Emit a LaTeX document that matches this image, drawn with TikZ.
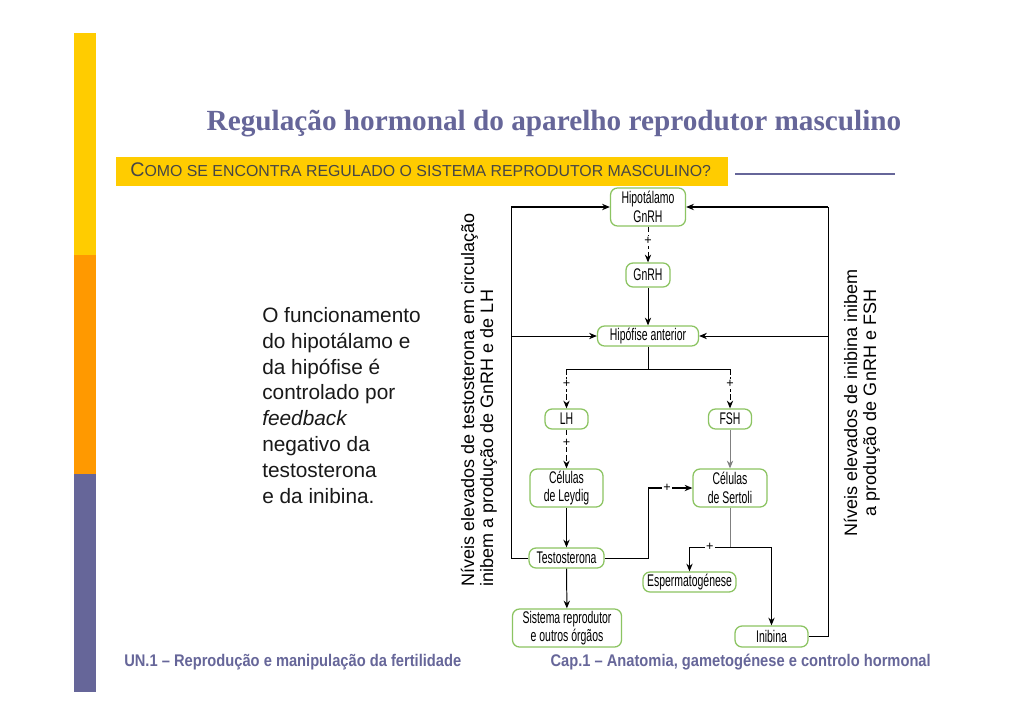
\documentclass[tikz,border=0pt]{standalone}
\usepackage{fontspec}
\setmainfont{Liberation Sans}
\newfontfamily\titlefont{Liberation Serif}
\newfontfamily\boxfont[FakeStretch=0.62]{Liberation Sans}
\newfontfamily\footfont[FakeStretch=0.87]{Liberation Sans}
\usepackage{tikz}
\usetikzlibrary{arrows.meta, positioning}
\definecolor{barYellow}{RGB}{255,204,0}
\definecolor{barOrange}{RGB}{255,153,0}
\definecolor{slate}{RGB}{102,102,153}
\definecolor{boxgreen}{RGB}{140,196,98}
\definecolor{bannertext}{RGB}{70,70,70}

\begin{document}
\begin{tikzpicture}[x=0.025cm, y=-0.025cm, >={Stealth[length=5.5pt,width=4.5pt]},
  box/.style={draw=boxgreen, line width=0.9pt, rounded corners=5pt, fill=white,
              inner sep=0pt, align=center, font=\boxfont\fontsize{12}{13}\selectfont},
  link/.style={line width=0.7pt},
  bold link/.style={line width=1.4pt},
  dashlink/.style={line width=0.7pt, dash pattern=on 4pt off 2pt},
  plus/.style={fill=white, inner sep=1pt, font=\fontsize{9}{9}\selectfont}]

% Fundo
\fill[white] (0,0) rectangle (1030,728);
\useasboundingbox (0,0) rectangle (1030,728);

% Barra lateral
\fill[barYellow] (74,33) rectangle (96,255);
\fill[barOrange] (74,255) rectangle (96,474);
\fill[slate] (74,474) rectangle (96,692);

% Título
\node[anchor=base, inner sep=0pt, text=slate,
      font=\titlefont\bfseries\fontsize{20.8}{24}\selectfont] (title) at (554,131)
  {Regulação hormonal do aparelho reprodutor masculino};

% Faixa
\fill[barYellow] (116,157) rectangle (728,186);
\node[anchor=base west, inner sep=0pt, text=bannertext] (question) at (130,177)
  {{\fontsize{14}{14}\selectfont C}{\fontsize{11.3}{14}\selectfont OMO SE ENCONTRA REGULADO O SISTEMA REPRODUTOR MASCULINO?}};
\draw[slate, line width=1.5pt] (735,174) -- (895,174);

% Texto
\node[anchor=north west, inner sep=0pt, align=left, text=black!90,
      font=\fontsize{14.8}{18.4}\selectfont] (para) at (262,307)
  {O funcionamento\\do hipotálamo e\\da hipófise é\\controlado por\\\textit{feedback}\\negativo da\\testosterona\\e da inibina.};

% Caixas
\node[box, minimum width=1.875cm, minimum height=0.95cm] (hipot) at (648,207) {Hipotálamo\\GnRH};
\node[box, minimum width=1.1cm, minimum height=0.6cm] (gnrh) at (648,275) {GnRH};
\node[box, minimum width=2.525cm, minimum height=0.5cm] (hipof) at (648,336) {Hipófise anterior};
\node[box, minimum width=1.075cm, minimum height=0.5cm] (lh) at (566.5,419) {LH};
\node[box, minimum width=1.075cm, minimum height=0.5cm] (fsh) at (730,419) {FSH};
\node[box, minimum width=1.825cm, minimum height=0.95cm] (leydig) at (566.5,488) {Células\\de Leydig};
\node[box, minimum width=1.85cm, minimum height=0.95cm] (sertoli) at (730,488) {Células\\de Sertoli};
\node[box, minimum width=1.875cm, minimum height=0.5cm] (testo) at (566.5,558) {Testosterona};
\node[box, minimum width=2.325cm, minimum height=0.5cm] (esperm) at (689.5,582) {Espermatogénese};
\node[box, minimum width=2.725cm, minimum height=0.95cm] (sistema) at (567,628) {Sistema reprodutor\\e outros órgãos};
\node[box, minimum width=1.825cm, minimum height=0.525cm] (inibina) at (771.5,636.5) {Inibina};

% Pontos auxiliares
\coordinate (split) at (648,369);
\coordinate (splitL) at (566.5,369);
\coordinate (splitR) at (730,369);
\coordinate (fbS) at (648,488);
\coordinate (splitS) at (730,547);
\coordinate (espTop) at (689.5,547);
\coordinate (inbTop) at (771.5,547);
\coordinate (loopL) at (511,207);
\coordinate (midL) at (511,336);
\coordinate (loopR) at (828,207);
\coordinate (midR) at (828,336);

% Eixo hipotálamo - hipófise
\draw[dashlink, ->] (hipot) -- node[plus, pos=0.4] {+} (gnrh);
\draw[link, ->] (gnrh) -- (hipof);
\draw[link] (hipof) -- (split);
\draw[link] (splitL) -- (splitR);
\draw[dashlink, ->] (splitL) -- node[plus, pos=0.375] {+} (lh);
\draw[dashlink, ->] (splitR) -- node[plus, pos=0.375] {+} (fsh);

% Testículos
\draw[dashlink, ->] (lh) -- node[plus, pos=0.33] {+} (leydig);
\draw[link, gray, ->] (fsh) -- (sertoli);
\draw[link, ->] (leydig) -- (testo);
\draw[link, ->] (testo) -- (sistema);
\draw[link] (testo.east) -| (fbS);
\draw[bold link, ->] (fbS) -- node[plus, pos=0.43] {+} (sertoli.west);
\draw[link, gray] (sertoli) -- (splitS);
\draw[link, ->] (splitS) -- node[plus] {+} (espTop) -- (esperm);
\draw[link, ->] (splitS) -- (inbTop) -- (inibina);

% Retroacção negativa
\draw[link] (testo.west) -| (loopL);
\draw[bold link, ->] (loopL) -- (hipot.west);
\draw[link, ->] (midL) -- (hipof.west);
\draw[link] (inibina.east) -| (loopR);
\draw[bold link, ->] (loopR) -- (hipot.east);
\draw[link, ->] (midR) -- (hipof.east);

% Legendas verticais
\node[rotate=90, align=left, inner sep=0pt, font=\fontsize{12.8}{13.5}\selectfont] (txtT) at (479,400)
  {Níveis elevados de testosterona em circulação\\inibem a produção de GnRH e de LH};
\node[rotate=90, align=center, inner sep=0pt, font=\fontsize{12.8}{13.5}\selectfont] (txtI) at (862,403)
  {Níveis elevados de inibina inibem\\a produção de GnRH e FSH};

% Rodapé
\node[anchor=base west, inner sep=0pt, text=slate,
      font=\footfont\bfseries\fontsize{12}{14}\selectfont] (footL) at (124,666)
  {UN.1 – Reprodução e manipulação da fertilidade};
\node[anchor=base east, inner sep=0pt, text=slate,
      font=\footfont\bfseries\fontsize{12}{14}\selectfont] (footR) at (931,666)
  {Cap.1 – Anatomia, gametogénese e controlo hormonal};

\end{tikzpicture}
\end{document}
